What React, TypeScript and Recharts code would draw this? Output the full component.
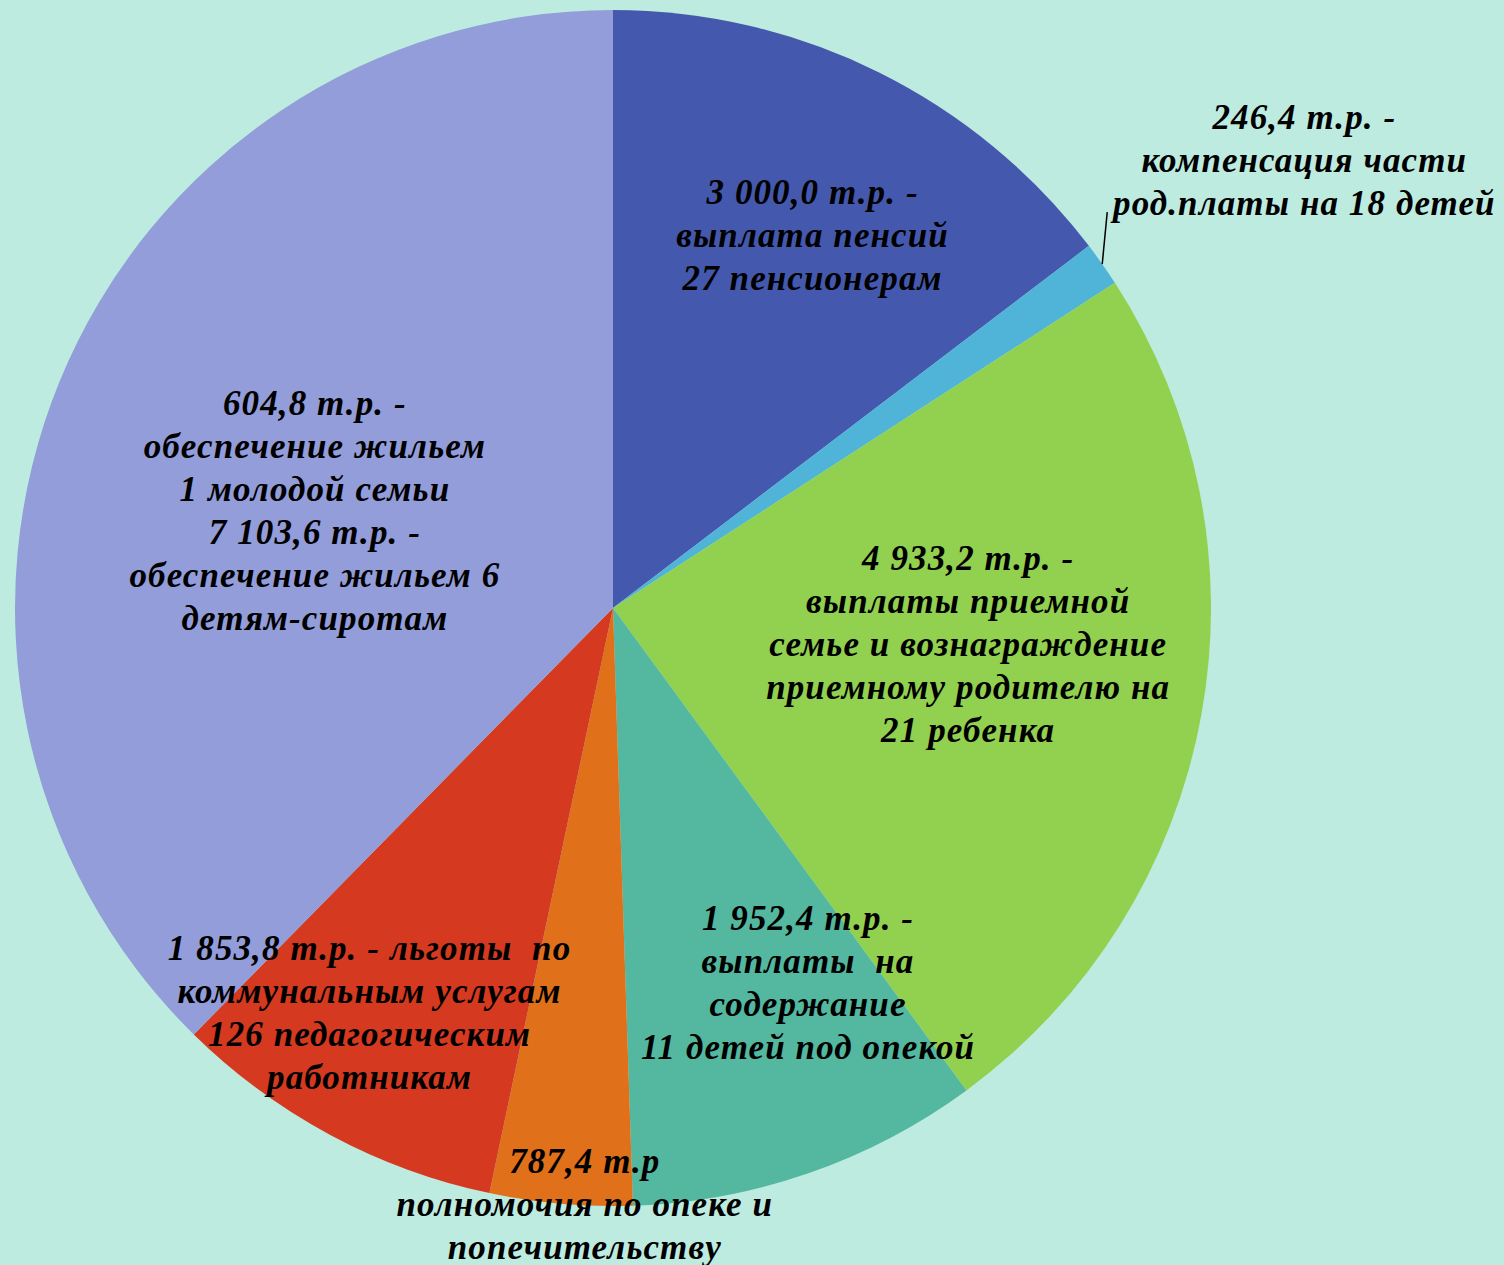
import { PieChart, Pie, Cell } from "recharts";

// значения, т.р.
const VALUES = [3000.0, 246.4, 4933.2, 1952.4, 787.4, 1853.8, 604.8 + 7103.6];
const NAMES = [
  "выплата пенсий",
  "компенсация части род.платы",
  "выплаты приемной семье",
  "выплаты на содержание",
  "полномочия по опеке",
  "льготы по коммунальным услугам",
  "обеспечение жильем",
];
const LABELS = [
  ["3 000,0 т.р. -", "выплата пенсий", "27 пенсионерам"],
  ["246,4 т.р. -", "компенсация части", "род.платы на 18 детей"],
  ["4 933,2 т.р. -", "выплаты приемной", "семье и вознаграждение", "приемному родителю на", "21 ребенка"],
  ["1 952,4 т.р. -", "выплаты  на", "содержание", "11 детей под опекой"],
  ["787,4 т.р", "полномочия по опеке и", "попечительству"],
  ["1 853,8 т.р. - льготы  по", "коммунальным услугам", "126 педагогическим", "работникам"],
  ["604,8 т.р. -", "обеспечение жильем", "1 молодой семьи", "7 103,6 т.р. -", "обеспечение жильем 6", "детям-сиротам"],
];
const COLORS = ["#4459AE", "#4FB4D8", "#92D050", "#53B89F", "#E07019", "#D5391F", "#929DD9"];

// где ставить подпись: доля радиуса и сдвиг угла от середины сектора
const LABEL_POS = [
  { r: 0.707, da: -1.8 },
  { r: 1.377, da: -2.2 },
  { r: 0.597, da: 4.6 },
  { r: 0.707, da: 8.4 },
  { r: 0.998, da: 2.3 },
  { r: 0.79, da: -2.8 },
  { r: 0.524, da: 4.3 },
];

const RAD = Math.PI / 180;
const LINE_H = 43;

const data = VALUES.map((v, i) => ({ name: NAMES[i], value: v }));

function renderLabel(props: any) {
  const { cx, cy, midAngle, outerRadius, index } = props;
  const pos = LABEL_POS[index];
  const a = (midAngle + pos.da) * RAD;
  const x = cx + outerRadius * pos.r * Math.cos(a);
  const y = cy - outerRadius * pos.r * Math.sin(a);
  const lines = LABELS[index];
  const n = lines.length;
  let leader = null;
  if (index === 1) {
    const sx = cx + outerRadius * Math.cos(midAngle * RAD);
    const sy = cy - outerRadius * Math.sin(midAngle * RAD);
    leader = <line x1={sx} y1={sy} x2={sx + 5} y2={sy - 52} stroke="#000" strokeWidth={1.5} />;
  }
  return (
    <g key={`lbl-${index}`}>
      {leader}
      <text
        x={x}
        y={y}
        textAnchor="middle"
        fontFamily="'Liberation Serif', 'Times New Roman', serif"
        fontWeight="bold"
        fontStyle="italic"
        fontSize={35}
        letterSpacing={1.1}
        fill="#000"
      >
        {lines.map((l, i) => (
          <tspan key={i} x={x} y={y + (i - (n - 1) / 2) * LINE_H} dominantBaseline="central" style={{ whiteSpace: "pre" }}>
            {l}
          </tspan>
        ))}
      </text>
    </g>
  );
}

export default function App() {
  return (
    <div style={{ position: "absolute", left: 0, top: 0, width: 1504, height: 1265, background: "#BDEBDF", overflow: "hidden" }}>
      <PieChart width={1504} height={1265} margin={{ top: 0, right: 0, bottom: 0, left: 0 }}>
        <Pie
          data={data}
          dataKey="value"
          nameKey="name"
          cx={613}
          cy={608}
          outerRadius={598}
          startAngle={90}
          endAngle={-270}
          stroke="none"
          label={renderLabel}
          labelLine={false}
          isAnimationActive={false}
        >
          {data.map((d, i) => (
            <Cell key={d.name} fill={COLORS[i]} />
          ))}
        </Pie>
      </PieChart>
    </div>
  );
}
